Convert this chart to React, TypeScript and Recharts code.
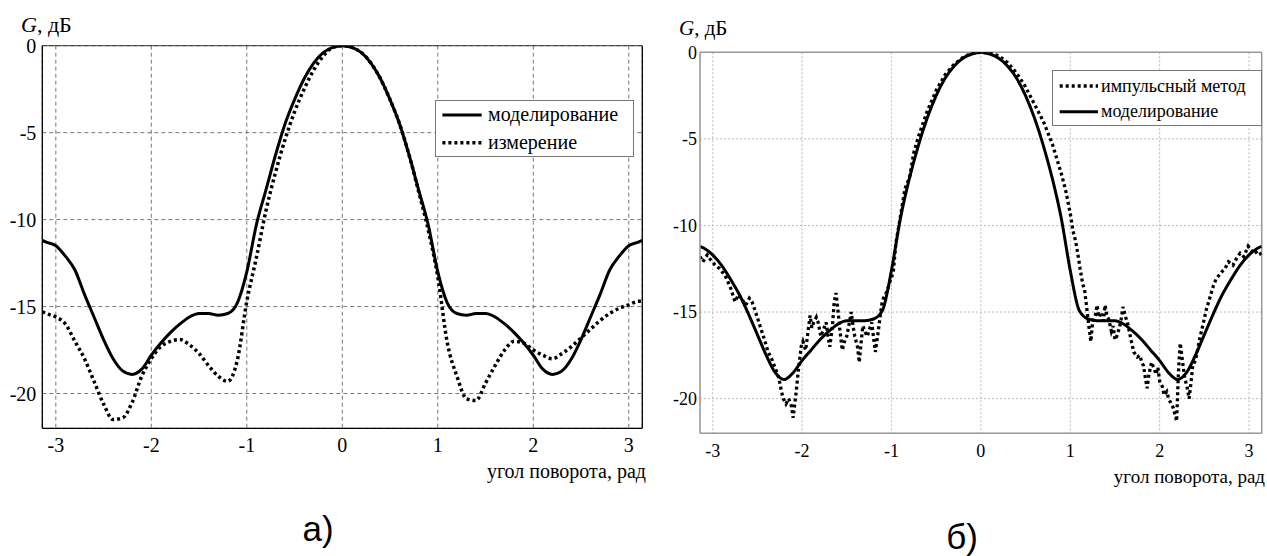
import React from 'react';
import { LineChart, Line, XAxis, YAxis, CartesianGrid, Legend, ReferenceLine } from 'recharts';

const SERIF = "'Liberation Serif', 'Times New Roman', Times, Tinos, 'DejaVu Serif', serif";
const SANS = "'Liberation Sans', Arial, sans-serif";

// ---- shared angle grid (rad) ----
const angles = [-3.1416, -3.1, -3, -2.9, -2.8, -2.7, -2.6, -2.5, -2.4, -2.3, -2.2, -2.1, -2, -1.9, -1.8, -1.7, -1.6, -1.5, -1.4, -1.3, -1.2, -1.1, -1, -0.9, -0.8, -0.7, -0.6, -0.5, -0.4, -0.3, -0.2, -0.1, 0, 0.1, 0.2, 0.3, 0.4, 0.5, 0.6, 0.7, 0.8, 0.9, 1, 1.1, 1.2, 1.3, 1.4, 1.5, 1.6, 1.7, 1.8, 1.9, 2, 2.1, 2.2, 2.3, 2.4, 2.5, 2.6, 2.7, 2.8, 2.9, 3, 3.1, 3.1416];

// ---- chart a) ----
const modelA = [-11.2, -11.3, -11.5, -12.1, -12.9, -14.3, -15.6, -16.9, -18.0, -18.7, -18.9, -18.6, -17.8, -17.1, -16.5, -16.0, -15.6, -15.4, -15.4, -15.5, -15.4, -14.8, -13.0, -10.3, -8.3, -6.3, -4.5, -3.1, -1.9, -1.0, -0.4, -0.1, 0, -0.1, -0.4, -1.0, -1.9, -3.1, -4.5, -6.3, -8.3, -10.3, -13.0, -14.8, -15.4, -15.5, -15.4, -15.4, -15.6, -16.0, -16.5, -17.1, -17.8, -18.6, -18.9, -18.7, -18.0, -16.9, -15.6, -14.3, -12.9, -12.1, -11.5, -11.3, -11.2];
const measA = [-15.3, -15.4, -15.6, -16.0, -17.0, -18.0, -19.3, -20.6, -21.5, -21.4, -20.5, -19.0, -18.0, -17.3, -17.0, -16.9, -17.2, -17.7, -18.4, -19.0, -19.3, -18.1, -14.7, -12.2, -9.5, -7.3, -5.4, -3.8, -2.5, -1.4, -0.6, -0.1, 0, -0.1, -0.4, -1.0, -1.9, -3.1, -4.5, -6.3, -8.4, -10.6, -13.3, -17.1, -19.0, -20.3, -20.4, -19.4, -18.4, -17.5, -17.0, -17.1, -17.5, -17.8, -18.0, -17.7, -17.3, -16.8, -16.3, -15.8, -15.4, -15.1, -14.9, -14.7, -14.7];

// ---- chart б) ----
const modelB = [-11.2, -11.3, -11.7, -12.3, -13.1, -14.0, -15.1, -16.3, -17.5, -18.5, -18.9, -18.5, -17.8, -17.2, -16.6, -16.1, -15.7, -15.5, -15.5, -15.5, -15.4, -14.9, -12.6, -9.6, -7.3, -5.4, -3.8, -2.5, -1.5, -0.8, -0.35, -0.1, 0, -0.1, -0.35, -0.8, -1.5, -2.5, -3.8, -5.4, -7.3, -9.6, -12.6, -14.9, -15.4, -15.5, -15.5, -15.5, -15.7, -16.1, -16.6, -17.2, -17.8, -18.5, -18.9, -18.5, -17.5, -16.3, -15.1, -14.0, -13.1, -12.3, -11.7, -11.3, -11.2];

const impX = [-3.1416, -3.11, -3.06, -3.02, -2.97, -2.92, -2.86, -2.8, -2.75, -2.71, -2.68, -2.63, -2.59, -2.56, -2.52, -2.47, -2.42, -2.38, -2.34, -2.31, -2.26, -2.23, -2.21, -2.18, -2.15, -2.12, -2.1, -2.07, -2.04, -2.01, -1.99, -1.96, -1.93, -1.91, -1.89, -1.87, -1.84, -1.82, -1.79, -1.76, -1.73, -1.71, -1.69, -1.66, -1.64, -1.62, -1.6, -1.58, -1.55, -1.52, -1.5, -1.47, -1.45, -1.43, -1.41, -1.38, -1.36, -1.34, -1.32, -1.29, -1.27, -1.24, -1.22, -1.2, -1.18, -1.15, -1.13, -1.11, -1.09, -1.05, -1.02, -0.98, -0.95, -0.9, -0.85, -0.82, -0.8, -0.75, -0.7, -0.6, -0.5, -0.4, -0.3, -0.2, -0.1, 0, 0.1, 0.2, 0.3, 0.4, 0.5, 0.6, 0.7, 0.8, 0.9, 0.95, 1, 1.03, 1.06, 1.09, 1.11, 1.14, 1.16, 1.19, 1.21, 1.23, 1.25, 1.28, 1.3, 1.32, 1.34, 1.37, 1.39, 1.41, 1.43, 1.46, 1.48, 1.5, 1.52, 1.55, 1.57, 1.59, 1.62, 1.64, 1.68, 1.71, 1.75, 1.78, 1.8, 1.82, 1.84, 1.86, 1.88, 1.91, 1.94, 1.96, 1.98, 2, 2.03, 2.05, 2.08, 2.1, 2.12, 2.15, 2.17, 2.19, 2.21, 2.23, 2.25, 2.28, 2.31, 2.33, 2.35, 2.37, 2.4, 2.42, 2.45, 2.49, 2.52, 2.56, 2.6, 2.63, 2.66, 2.69, 2.73, 2.77, 2.82, 2.86, 2.9, 2.94, 2.99, 3.03, 3.06, 3.1, 3.1416];
const impY = [-11.8, -12.1, -11.7, -12.0, -12.3, -12.5, -12.9, -13.6, -14.4, -14.0, -14.2, -14.6, -14.2, -14.4, -15.0, -15.8, -16.6, -17.3, -17.7, -18.1, -18.8, -19.6, -20.0, -20.3, -20.0, -20.4, -21.1, -19.8, -18.3, -17.0, -16.7, -17.2, -16.0, -15.2, -15.9, -15.6, -15.3, -15.6, -16.4, -16.0, -15.6, -16.4, -17.0, -15.8, -14.4, -13.9, -14.8, -15.9, -17.2, -16.6, -16.4, -15.6, -15.0, -15.8, -16.4, -17.0, -17.9, -16.8, -15.8, -16.2, -16.4, -15.9, -15.6, -16.5, -17.3, -16.2, -15.4, -14.6, -14.2, -13.8, -13.3, -12.7, -11.0, -9.5, -7.9, -7.5, -7.3, -5.8, -4.9, -3.4, -2.2, -1.3, -0.7, -0.3, -0.05, 0, -0.05, -0.2, -0.6, -1.2, -2.0, -3.0, -4.0, -5.3, -7.0, -8.0, -9.3, -10.3, -10.9, -11.8, -12.5, -13.4, -13.7, -15.0, -15.9, -16.7, -15.6, -15.2, -14.6, -15.3, -15.0, -15.5, -14.6, -15.2, -15.4, -16.1, -15.8, -16.6, -16.4, -15.9, -15.4, -14.7, -15.3, -15.6, -16.6, -17.3, -17.6, -17.5, -17.9, -18.1, -18.8, -19.4, -18.6, -17.9, -18.3, -18.6, -18.2, -19.0, -19.3, -19.8, -19.6, -20.0, -20.2, -20.5, -20.9, -21.3, -18.5, -16.8, -17.6, -18.8, -19.4, -20.0, -19.1, -18.1, -17.8, -17.3, -16.5, -15.6, -14.9, -14.2, -13.5, -13.1, -12.9, -12.7, -12.5, -12.1, -12.3, -11.9, -11.6, -11.8, -11.2, -11.5, -11.4, -11.7, -11.6];

const xTicks = [-3, -2, -1, 0, 1, 2, 3];
const yTicks = [-20, -15, -10, -5, 0];
const labelsA = ['моделирование', 'измерение'];
const labelsB = ['импульсный метод', 'моделирование'];
const axisTitleY = 'дБ';
const axisTitleX = 'угол поворота, рад';

const rowsA = angles.map((x, i) => ({ x, model: modelA[i], meas: measA[i] }));
const rowsBModel = angles.map((x, i) => ({ x, model: modelB[i] }));
const rowsBImp = impX.map((x, i) => ({ x, imp: impY[i] }));

const PI = Math.PI;

function LegendBox(props: { items: { label: string; dashed: boolean }[]; fontSize: number; rowY: number[]; lineX: [number, number]; textX: number; w: number; h: number }) {
  const { items, fontSize, rowY, lineX, textX, w, h } = props;
  return (
    <div style={{ position: 'relative', width: w, height: h, border: '1px solid #777', background: '#fff', boxSizing: 'border-box' }}>
      <svg width={w} height={h} style={{ position: 'absolute', left: -1, top: -1 }}>
        {items.map((it, i) => (
          <g key={i}>
            <line x1={lineX[0]} x2={lineX[1]} y1={rowY[i]} y2={rowY[i]} stroke="#000" strokeWidth={it.dashed ? 3.5 : 3} strokeDasharray={it.dashed ? '3 3' : undefined} />
            <text x={textX} y={rowY[i]} dy="0.32em" style={{ fontFamily: SERIF }} fontSize={fontSize} fill="#000">{it.label}</text>
          </g>
        ))}
      </svg>
    </div>
  );
}

export default function App() {
  return (
    <div style={{ position: 'absolute', left: 0, top: 0, width: 1267, height: 556, background: '#fff', overflow: 'hidden', fontFamily: SERIF }}>
      {/* chart а) */}
      <div style={{ position: 'absolute', left: 0, top: 0 }}>
        <LineChart width={650} height={470} data={rowsA} margin={{ top: 45.7, right: 7.7, left: 0, bottom: 11.7 }}>
          <CartesianGrid stroke="#555" strokeDasharray="4 3" strokeWidth={0.8} />
          <XAxis type="number" dataKey="x" domain={[-PI, PI]} ticks={xTicks} allowDataOverflow height={30}
            axisLine={{ stroke: '#000', strokeWidth: 1.3 }} tickLine={false} tickSize={6} tickMargin={3}
            tick={{ fill: '#000', fontSize: 20, style: { fontFamily: SERIF } }} />
          <YAxis type="number" domain={[-22, 0]} ticks={yTicks} allowDataOverflow width={42.3}
            axisLine={{ stroke: '#000', strokeWidth: 1.3 }} tickLine={false} tickSize={6} tickMargin={0}
            tick={{ fill: '#000', fontSize: 20, style: { fontFamily: SERIF } }} />
          <ReferenceLine y={0} stroke="#333" strokeWidth={1} />
          <ReferenceLine x={PI} stroke="#000" strokeWidth={1.3} />
          <Line type="monotone" dataKey="meas" stroke="#000" strokeWidth={3.5} strokeDasharray="3 3" dot={false} isAnimationActive={false} />
          <Line type="monotone" dataKey="model" stroke="#000" strokeWidth={3} dot={false} isAnimationActive={false} />
          <Legend layout="horizontal" verticalAlign="middle" align="center"
            wrapperStyle={{ left: 435.3, top: 100, width: 199, height: 57.3 }}
            content={() => (
              <LegendBox items={[{ label: labelsA[0], dashed: false }, { label: labelsA[1], dashed: true }]}
                fontSize={20} rowY={[15, 42.7]} lineX={[7.4, 46.7]} textX={53} w={199} h={57.3} />
            )} />
        </LineChart>
      </div>

      {/* chart б) */}
      <div style={{ position: 'absolute', left: 650, top: 0 }}>
        <LineChart width={617} height={470} margin={{ top: 52.3, right: 5.3, left: 0, bottom: 6.7 }}>
          <CartesianGrid stroke="#bbb" strokeDasharray="2 2" strokeWidth={1} />
          <XAxis type="number" dataKey="x" domain={[-PI, PI]} ticks={xTicks} allowDataOverflow height={30}
            axisLine={{ stroke: '#999', strokeWidth: 1.5 }} tickLine={false} tickSize={6} tickMargin={5}
            tick={{ fill: '#000', fontSize: 18, style: { fontFamily: SERIF } }} />
          <YAxis type="number" domain={[-22, 0]} ticks={yTicks} allowDataOverflow width={50}
            axisLine={{ stroke: '#999', strokeWidth: 1.5 }} tickLine={false} tickSize={3} tickMargin={0}
            tick={{ fill: '#000', fontSize: 18, style: { fontFamily: SERIF } }} />
          <ReferenceLine y={0} stroke="#999" strokeWidth={1.5} />
          <ReferenceLine x={PI} stroke="#999" strokeWidth={1.5} />
          <Line data={rowsBImp} type="linear" dataKey="imp" stroke="#000" strokeWidth={3.3} strokeDasharray="3 3" dot={false} isAnimationActive={false} />
          <Line data={rowsBModel} type="monotone" dataKey="model" stroke="#000" strokeWidth={3} dot={false} isAnimationActive={false} />
          <Legend layout="horizontal" verticalAlign="middle" align="center"
            wrapperStyle={{ left: 402.3, top: 70, width: 209.4, height: 55.7 }}
            content={() => (
              <LegendBox items={[{ label: labelsB[0], dashed: true }, { label: labelsB[1], dashed: false }]}
                fontSize={18} rowY={[16, 41.7]} lineX={[7.7, 46]} textX={49} w={209.4} h={55.7} />
            )} />
        </LineChart>
      </div>

      {/* axis titles and captions */}
      <svg width={1267} height={556} style={{ position: 'absolute', left: 0, top: 0, pointerEvents: 'none' }}>
        <text x={21} y={32} style={{ fontFamily: SERIF }} fontSize={22} fill="#000">
          <tspan fontStyle="italic">G</tspan>, {axisTitleY}
        </text>
        <text x={679} y={35} style={{ fontFamily: SERIF }} fontSize={21} fill="#000">
          <tspan fontStyle="italic">G</tspan>, {axisTitleY}
        </text>
        <text x={646} y={478} textAnchor="end" style={{ fontFamily: SERIF }} fontSize={20} fill="#000">{axisTitleX}</text>
        <text x={1265} y={483} textAnchor="end" style={{ fontFamily: SERIF }} fontSize={19} fill="#000">{axisTitleX}</text>
        <text x={318} y={541} textAnchor="middle" style={{ fontFamily: SANS }} fontSize={35} fill="#000">а)</text>
        <text x={962} y={549} textAnchor="middle" style={{ fontFamily: SANS }} fontSize={35} fill="#000">б)</text>
      </svg>
    </div>
  );
}
